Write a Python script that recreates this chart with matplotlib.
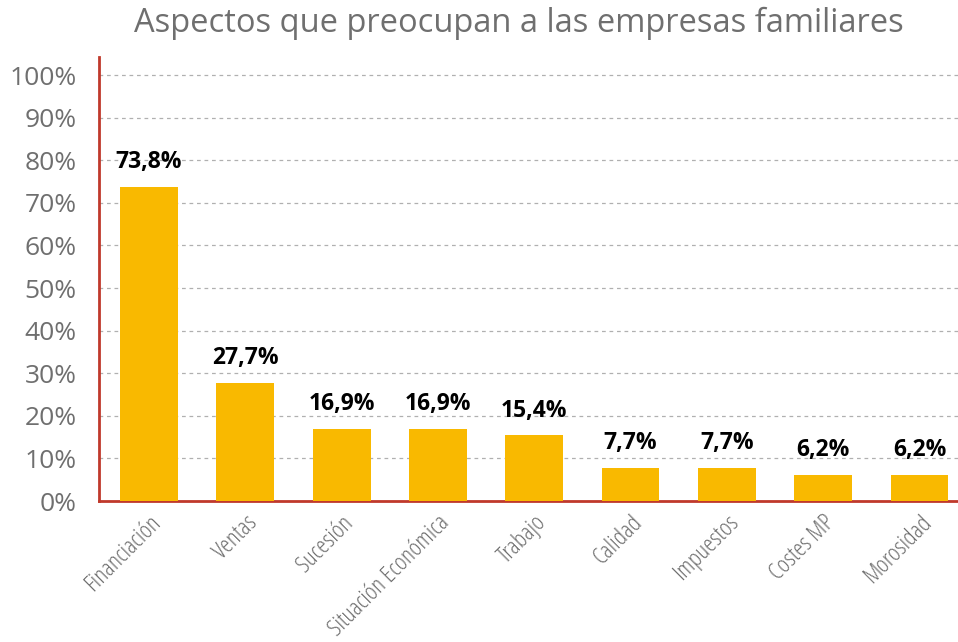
import matplotlib
matplotlib.use("Agg")
import matplotlib.pyplot as plt
from matplotlib.ticker import MultipleLocator, FuncFormatter

# datos
categorias = ["Financiación", "Ventas", "Sucesión", "Situación Económica", "Trabajo",
              "Calidad", "Impuestos", "Costes MP", "Morosidad"]
valores = [73.8, 27.7, 16.9, 16.9, 15.4, 7.7, 7.7, 6.2, 6.2]
etiquetas = ["73,8%", "27,7%", "16,9%", "16,9%", "15,4%", "7,7%", "7,7%", "6,2%", "6,2%"]

GRIS = "#6f6f6f"
ROJO = "#c0392b"
AMARILLO = "#f9b900"

plt.rcParams["font.family"] = ["Open Sans", "DejaVu Sans"]

fig = plt.figure(figsize=(9.58, 6.42), dpi=100)
ax = fig.add_axes([0.1033, 0.2196, 0.8967, 0.6914])

x = range(len(categorias))
ax.bar(x, valores, width=0.6, color=AMARILLO, zorder=3)
for xi, v, t in zip(x, valores, etiquetas):
    ax.text(xi, v + 3.0, t, ha="center", va="bottom", fontsize=16.5,
            fontweight="bold", color="black", zorder=4)

ax.set_ylim(0, 104.2)
ax.set_xlim(-0.52, 8.4)
ax.yaxis.set_major_locator(MultipleLocator(10))
ax.yaxis.set_major_formatter(FuncFormatter(lambda v, p: f"{v:.0f}%"))
ax.tick_params(axis="y", length=0, labelsize=19, labelcolor=GRIS, pad=16)
ax.set_xticks(list(x))
ax.set_xticklabels(categorias, rotation=45, ha="right", rotation_mode="anchor",
                   fontsize=17.5, color=GRIS, fontstretch="condensed")
ax.tick_params(axis="x", length=0, pad=7)

ax.grid(axis="y", linestyle=(0, (3, 3)), color="#b0b0b0", linewidth=0.9, zorder=0)
for s in ["top", "right"]:
    ax.spines[s].set_visible(False)
for s in ["left", "bottom"]:
    ax.spines[s].set_color(ROJO)
    ax.spines[s].set_linewidth(2)

fig.suptitle("Aspectos que preocupan a las empresas familiares", x=0.542, y=0.99,
             fontsize=23.5, color=GRIS)

fig.savefig("out.png", dpi=100)
